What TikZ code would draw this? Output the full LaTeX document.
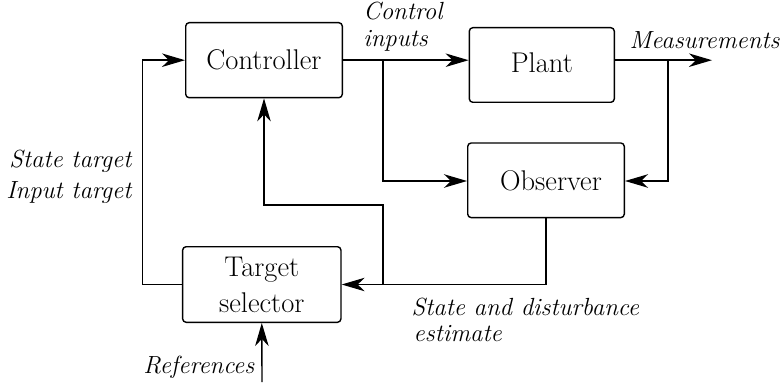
\documentclass[tikz,border=0pt]{standalone}
\usetikzlibrary{arrows.meta}
\begin{document}
\begin{tikzpicture}[x=1pt,y=-1pt,
  line width=1.4pt,
  blockbox/.style={draw, rounded corners=3.5pt, font=\fontsize{28.5}{36}\selectfont,
    inner sep=0pt, align=center},
  tag/.style={font=\fontsize{24.8}{26}\selectfont\itshape, inner sep=0pt},
  flow/.style={-{Stealth[length=23pt,width=13.5pt,inset=7pt]}}]
\useasboundingbox (0,0) rectangle (781,385);

% blocks
\node[blockbox, minimum width=156.6pt, minimum height=75pt] (ctrl) at (264,60.2) {Controller};
\node[blockbox, minimum width=145pt, minimum height=74.6pt] (plant) at (541.8,65) {\raisebox{4pt}{Plant}};
\node[blockbox, minimum width=156.6pt, minimum height=74.6pt] (obs) at (546,180.3) {\hspace*{10pt}Observer};
\node[blockbox, minimum width=158.3pt, minimum height=75.6pt] (ts) at (261.8,284.5) {Target\\selector};

% free ends of the open connectors
\coordinate (meas) at (712,60.2);
\coordinate (refs) at (262,382);

% control inputs to plant, with branch to observer
\draw[flow] (ctrl.east) -- (ctrl.east -| plant.west);
\draw[flow] (383,60.2) -- (383,181) -- (obs.west |- 0,181);

% measurements, with branch to observer
\draw[flow] (plant.east |- ctrl.east) -- (meas);
\draw[flow] (668,60.2) -- (668,181) -- (obs.east |- 0,181);

% state and disturbance estimate to target selector and controller
\draw[flow] (obs.south) -- (obs.south |- ts.east) -- (ts.east);
\draw[flow] (383,284.5) -- (383,205) -- (ctrl.south |- 0,205) -- (ctrl.south);

% targets to controller
\draw[flow] (ts.west) -- (142.7,284.5) -- (142.7,60.2) -- (ctrl.west);

% references
\draw[flow] (refs) -- (ts.south);

% labels
\node[tag, anchor=base west] (lci) at (362.7,20) {Control};
\node[tag, anchor=base west] (lcj) at (362.7,47) {inputs};
\node[tag, anchor=base west] (lm) at (629,49) {Measurements};
\node[tag, anchor=base east] (lst) at (132,167.3) {State target};
\node[tag, anchor=base east] (lit) at (132,198.3) {Input target};
\node[tag, anchor=base east] (lr) at (255,373.3) {References};
\node[tag, anchor=base west] (lsd) at (411,315.7) {State and disturbance};
\node[tag, anchor=base west] (les) at (413,341.7) {estimate};
\end{tikzpicture}
\end{document}
